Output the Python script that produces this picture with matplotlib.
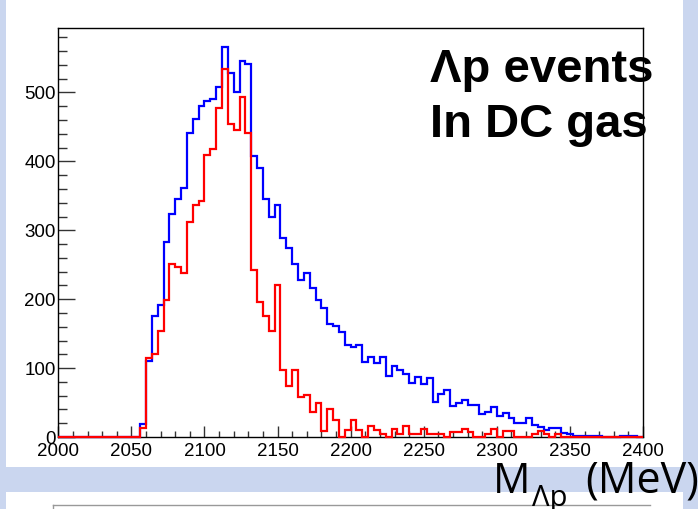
import numpy as np
import matplotlib
matplotlib.use('Agg')
import matplotlib.pyplot as plt
from matplotlib.patches import Rectangle
from matplotlib.lines import Line2D
from matplotlib.ticker import MultipleLocator

plt.rcParams['font.family'] = ['Liberation Sans', 'DejaVu Sans']

# histogram: 100 bins of 4 MeV between 2000 and 2400
bin_lo = 2000
bin_hi = 2400
n_bins = 100

# all events (blue)
blue_counts = [0] * 14 + [
    19, 111, 175, 191, 283, 324, 345, 362, 441, 461, 481, 487, 491, 508, 566,
    528, 500, 545, 541, 408, 391, 345, 320, 337, 289, 275, 251, 228, 238, 216,
    199, 187, 164, 161, 152, 134, 130, 133, 109, 116, 108, 116, 88, 103, 97,
    91, 78, 87, 77, 85, 51, 62, 68, 45, 50, 53, 47, 46, 34, 36, 43, 30, 35,
    27, 20, 20, 28, 18, 15, 10, 13, 13, 6, 4, 2, 2, 2, 2, 2, 0, 0, 0, 2, 2, 2, 0]

# events in DC gas (red)
red_counts = [0] * 14 + [
    13, 114, 120, 154, 199, 251, 247, 238, 312, 336, 343, 409, 418, 478, 534,
    454, 446, 494, 441, 243, 196, 175, 154, 220, 97, 74, 97, 58, 61, 37, 49,
    9, 40, 25, 0, 10, 25, 10, 0, 16, 10, 4, 0, 11, 4, 16, 4, 4, 11, 4, 4, 4,
    0, 7, 7, 11, 7, 0, 0, 4, 11, 0, 8, 8, 0, 0, 0, 5, 8, 5, 0, 5] + [0] * 14

edges = np.linspace(bin_lo, bin_hi, n_bins + 1)

W, H = 698, 509
fig = plt.figure(figsize=(W / 100, H / 100), dpi=100)
fig.patch.set_facecolor('#cad6ef')

# white slide panels
fig.add_artist(Rectangle((6 / W, 1 - 467 / H), 677 / W, 467 / H,
                         transform=fig.transFigure, facecolor='white',
                         edgecolor='none', zorder=0))
fig.add_artist(Rectangle((6 / W, 0), 677 / W, 17 / H,
                         transform=fig.transFigure, facecolor='white',
                         edgecolor='none', zorder=0))
fig.add_artist(Line2D([53 / W, 650 / W], [1 - 505 / H, 1 - 505 / H],
                      transform=fig.transFigure, color='#999999', lw=1))
fig.add_artist(Line2D([53 / W, 53 / W], [0, 1 - 505 / H],
                      transform=fig.transFigure, color='#999999', lw=1))

ax = fig.add_axes([58.3 / W, 1 - 437 / H, (643 - 58.3) / W, (437 - 27.7) / H])
ax.set_facecolor('white')

ax.stairs(blue_counts, edges, color='#0000ff', lw=1.6, zorder=3, clip_on=False)
ax.stairs(red_counts, edges, color='#ff0000', lw=1.6, zorder=4, clip_on=False)

ax.set_xlim(bin_lo, bin_hi)
ax.set_ylim(0, 594)

ax.xaxis.set_major_locator(MultipleLocator(50))
ax.xaxis.set_minor_locator(MultipleLocator(10))
ax.yaxis.set_major_locator(MultipleLocator(100))
ax.yaxis.set_minor_locator(MultipleLocator(20))

ax.tick_params(axis='x', which='major', direction='in', length=8, width=1,
               color='#333333', labelsize=13.5, pad=4)
ax.tick_params(axis='x', which='minor', direction='in', length=4, width=1,
               color='#333333')
ax.tick_params(axis='y', which='major', direction='in', length=12.5, width=1,
               color='#333333', labelsize=13.5, pad=2)
ax.tick_params(axis='y', which='minor', direction='in', length=6.5, width=1,
               color='#333333')
for s in ax.spines.values():
    s.set_linewidth(1)
    s.set_color('black')

fig.text(430 / W, 1 - 82 / H, 'Λp events', fontsize=34, fontweight='bold',
         va='baseline', ha='left')
fig.text(430 / W, 1 - 137 / H, 'In DC gas', fontsize=34, fontweight='bold',
         va='baseline', ha='left')

# axis title M_Λp (MeV)
title_font = ['Open Sans', 'DejaVu Sans']
fig.text(493 / W, 1 - 493 / H, 'M', fontsize=30, family=title_font,
         va='baseline', ha='left')
fig.text(532 / W, 1 - 506 / H, 'Λp', fontsize=21, family=title_font,
         va='baseline', ha='left')
fig.text(699 / W, 1 - 493 / H, '(MeV)', fontsize=31, family=title_font,
         va='baseline', ha='right')

fig.savefig('out.png', dpi=100, facecolor=fig.get_facecolor())
